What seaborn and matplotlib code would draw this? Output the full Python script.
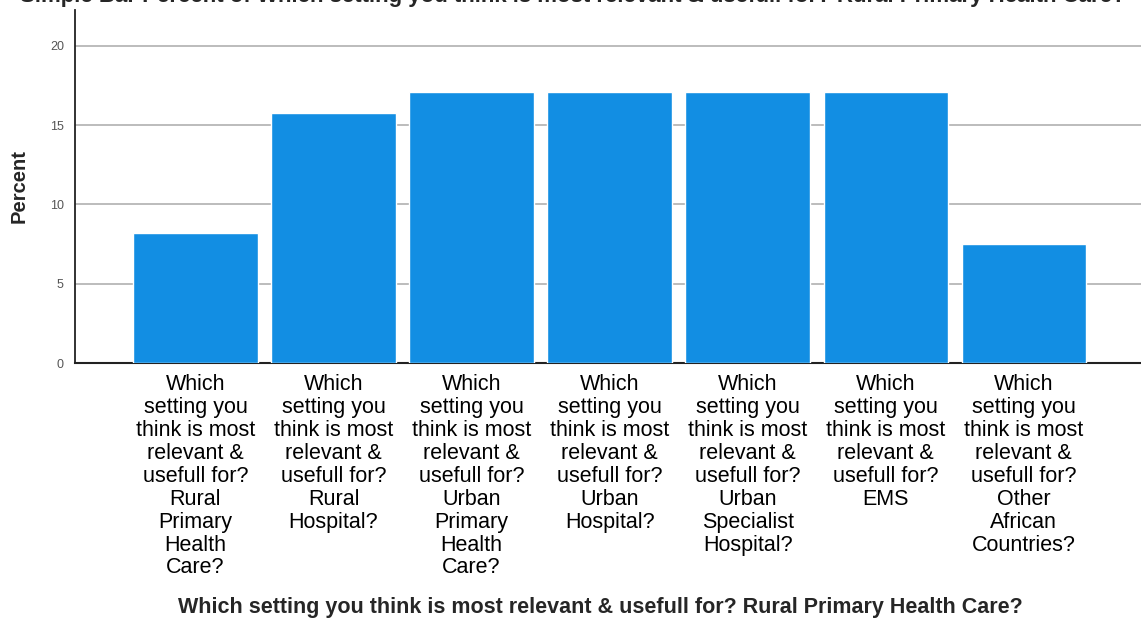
import matplotlib
matplotlib.use("Agg")
import matplotlib.pyplot as plt
import seaborn as sns
import pandas as pd

# settings (categories) and percent values
categories = [
    "Rural Primary Health Care",
    "Rural Hospital",
    "Urban Primary Health Care",
    "Urban Hospital",
    "Urban Specialist Hospital",
    "EMS",
    "Other African Countries",
]
percent = [8.2, 15.8, 17.1, 17.1, 17.1, 17.1, 7.5]
tick_labels = [
    "Which\nsetting you\nthink is most\nrelevant &\nusefull for?\nRural\nPrimary\nHealth\nCare?",
    "Which\nsetting you\nthink is most\nrelevant &\nusefull for?\nRural\nHospital?",
    "Which\nsetting you\nthink is most\nrelevant &\nusefull for?\nUrban\nPrimary\nHealth\nCare?",
    "Which\nsetting you\nthink is most\nrelevant &\nusefull for?\nUrban\nHospital?",
    "Which\nsetting you\nthink is most\nrelevant &\nusefull for?\nUrban\nSpecialist\nHospital?",
    "Which\nsetting you\nthink is most\nrelevant &\nusefull for?\nEMS",
    "Which\nsetting you\nthink is most\nrelevant &\nusefull for?\nOther\nAfrican\nCountries?",
]
y_ticks = [0, 5, 10, 15, 20]

df = pd.DataFrame({"setting": categories, "percent": percent})

sns.set_style("white")
plt.rcParams["font.family"] = ["Liberation Sans", "DejaVu Sans"]

fig = plt.figure(figsize=(11.41, 6.18), dpi=100)
ax = fig.add_axes([0.0657, 0.4126, 0.9343, 0.572])

sns.barplot(data=df, x="setting", y="percent", color="#128ee3",
            saturation=1, width=0.9, ax=ax, zorder=3)

ax.set_xlim(-0.873, 6.85)
ax.set_ylim(0, 22.3)
ax.set_yticks(y_ticks)
ax.set_yticklabels([str(t) for t in y_ticks], fontsize=9, color="#555555")
ax.yaxis.grid(True, color="#b0b0b0", linewidth=1.2, zorder=0)
ax.set_axisbelow(True)

ax.set_xticks(range(len(tick_labels)))
ax.set_xticklabels(tick_labels, fontsize=15.5, color="#000000",
                   linespacing=1.12, va="top")
ax.tick_params(axis="x", length=0, pad=8)
ax.tick_params(axis="y", length=0, pad=8)

for side in ["top", "right"]:
    ax.spines[side].set_visible(False)
ax.spines["left"].set_color("#222222")
ax.spines["bottom"].set_color("#222222")
ax.spines["left"].set_linewidth(1.3)
ax.spines["bottom"].set_linewidth(1.5)

ax.set_ylabel("Percent", fontsize=14.5, fontweight="bold", labelpad=15)
ax.set_xlabel("")
fig.text(0.526, 0.017, "Which setting you think is most relevant & usefull for? Rural Primary Health Care?",
         ha="center", va="center", fontsize=15.5, fontweight="bold")

# title cut off at the top of the image, as in the source
fig.text(0.502, 1.006, "Simple Bar Percent of Which setting you think is most relevant & usefull for? Rural Primary Health Care?",
         ha="center", va="center", fontsize=16, fontweight="bold")

fig.savefig("out.png", dpi=100)
